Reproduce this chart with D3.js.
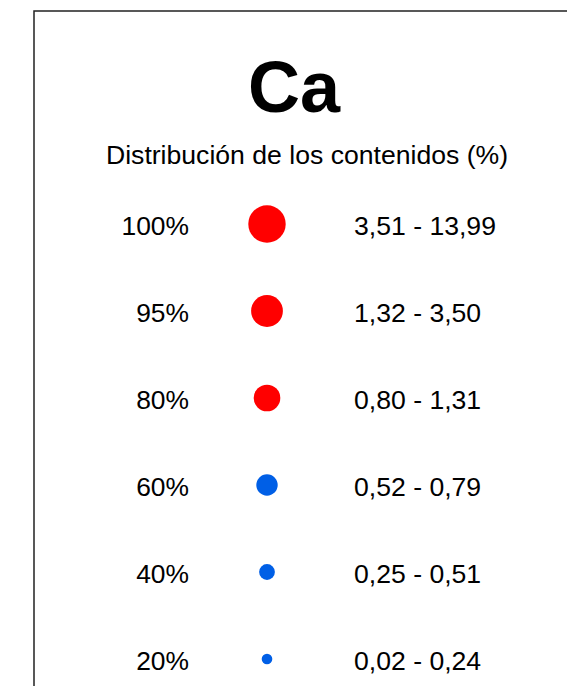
<!DOCTYPE html>
<html>
<head>
<meta charset="utf-8">
<script src="https://cdn.jsdelivr.net/npm/d3@7"></script>
<style>
  html, body { margin: 0; padding: 0; background: #fff; }
  svg { display: block; }
  text { font-family: "Liberation Sans", Arial, sans-serif; fill: #000; }
</style>
</head>
<body>
<svg id="legend" width="567" height="686"></svg>
<script>
const element = 'Ca';
const subtitle = 'Distribución de los contenidos (%)';
const percentiles = ['100%', '95%', '80%', '60%', '40%', '20%'];
const ranges = ['3,51 - 13,99', '1,32 - 3,50', '0,80 - 1,31', '0,52 - 0,79', '0,25 - 0,51', '0,02 - 0,24'];
const groups = ['high', 'high', 'high', 'low', 'low', 'low'];

const rows = percentiles.map((p, i) => ({p, range: ranges[i], group: groups[i]}));

const svg = d3.select('#legend');

// frame (cropped on the right and bottom)
svg.append('rect')
  .attr('x', 34)
  .attr('y', 11)
  .attr('width', 700)
  .attr('height', 800)
  .attr('fill', 'none')
  .attr('stroke', '#222')
  .attr('stroke-width', 1.5);

svg.append('text')
  .attr('x', 294)
  .attr('y', 112)
  .attr('text-anchor', 'middle')
  .attr('font-size', 72)
  .attr('font-weight', 'bold')
  .text(element);

svg.append('text')
  .attr('x', 307)
  .attr('y', 164)
  .attr('text-anchor', 'middle')
  .attr('font-size', 26.6)
  .text(subtitle);

const y = d3.scalePoint()
  .domain(percentiles)
  .range([224, 659]);

const r = d3.scaleOrdinal()
  .domain(percentiles)
  .range([18.7, 15.9, 13.3, 10.7, 7.9, 5.3]);

const color = d3.scaleOrdinal()
  .domain(['high', 'low'])
  .range(['#ff0000', '#005fe6']);

const row = svg.append('g')
  .selectAll('g')
  .data(rows)
  .enter()
  .append('g')
  .attr('transform', d => `translate(0, ${y(d.p)})`);

row.append('text')
  .attr('x', 189)
  .attr('y', 11)
  .attr('text-anchor', 'end')
  .attr('font-size', 26.4)
  .text(d => d.p);

row.append('circle')
  .attr('cx', 267)
  .attr('cy', 0)
  .attr('r', d => r(d.p))
  .attr('fill', d => color(d.group));

row.append('text')
  .attr('x', 354)
  .attr('y', 11)
  .attr('font-size', 26.6)
  .text(d => d.range);
</script>
</body>
</html>
